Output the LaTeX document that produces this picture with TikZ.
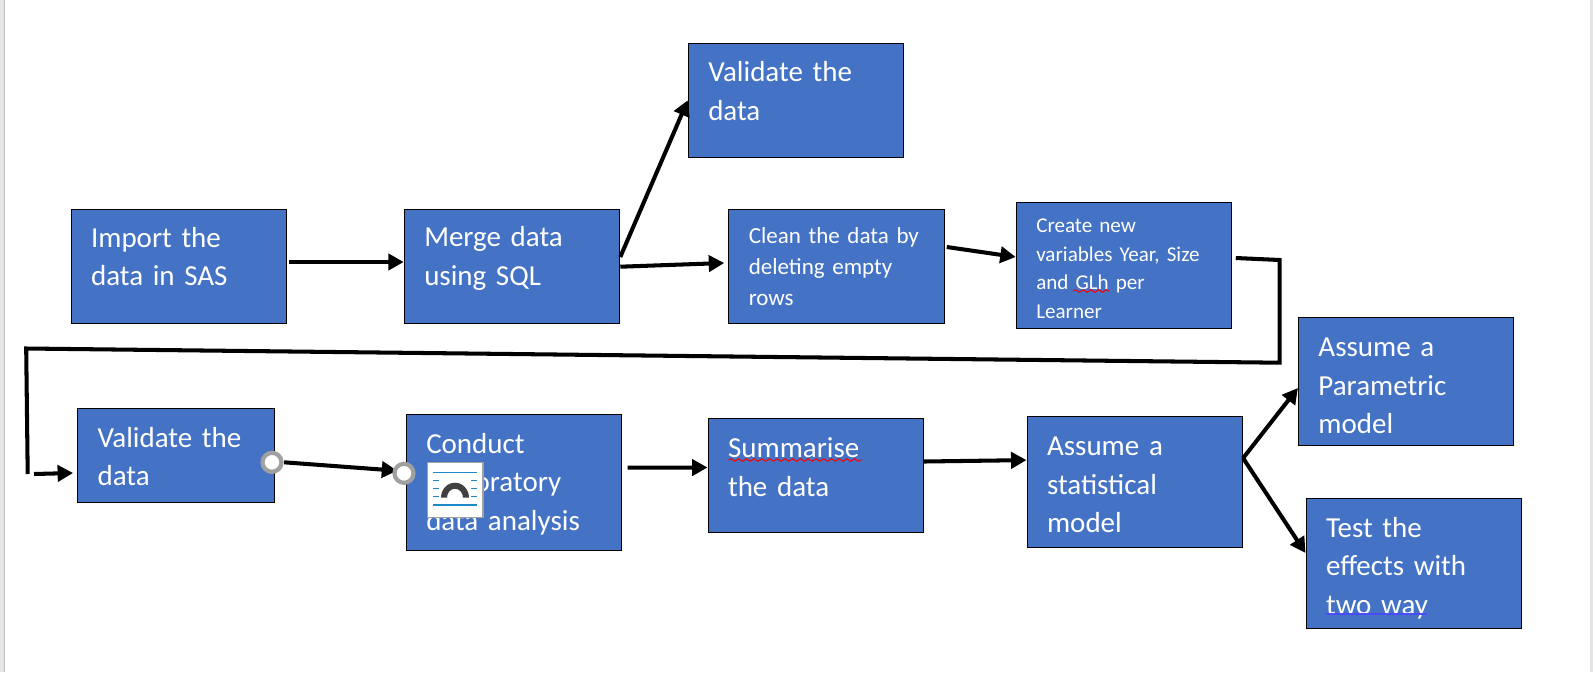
\documentclass[tikz,border=0pt]{standalone}
\usepackage{fontspec}
\setmainfont{Carlito}
\usetikzlibrary{arrows.meta,decorations.pathmorphing}
\definecolor{boxblue}{HTML}{4472C4}
\definecolor{pagegray}{HTML}{E6E6E6}
\definecolor{edgegray}{HTML}{BDBDBD}
\definecolor{ringgray}{HTML}{A0A0A0}
\definecolor{iconblue}{HTML}{1E88C8}
\definecolor{icondark}{HTML}{404040}
\newcommand{\bigboxfont}{\fontsize{8.25}{10.95}\selectfont\setlength{\spaceskip}{1.4pt}}

\begin{document}
\begin{tikzpicture}
		\tikzstyle{every node}=[align=left, inner sep=0pt]
		\tikzstyle{stepbox}=[rectangle, draw=black, line width=0.3pt, fill=boxblue, text=white, inner xsep=0.2cm, text width=1.755cm, minimum height=1.14cm]
		\tikzstyle{bigtext}=[font=\bigboxfont]
		\tikzstyle{midtext}=[font=\fontsize{6.55}{8.8}\selectfont]
		\tikzstyle{smalltext}=[font=\fontsize{6}{8.15}\selectfont]
		\tikzstyle{flow}=[line width=1.15pt, -{Triangle[length=4.4pt, width=4.6pt]}]
		\tikzstyle{plain}=[line width=1.15pt, line join=miter]
		\tikzstyle{ring}=[circle, draw=ringgray, line width=1.2pt, fill=white, minimum size=0.19cm]
		\tikzstyle{wavy}=[line width=0.3pt, decorate, decoration={snake, amplitude=0.35pt, segment length=2.2pt}]

		\useasboundingbox (0, 0) rectangle (15.93, -6.72);
		\fill [white] (0, 0) rectangle (15.93, -6.72);
		\fill [pagegray] (0, 0) rectangle (0.046, -6.72);
		\fill [pagegray] (15.9, 0) rectangle (15.93, -6.72);
		\draw [edgegray, line width=0.3pt] (0.046, 0) -- (0.046, -6.72);

		\node [stepbox, bigtext, text depth=16.15pt, minimum height=1.145cm] (valtop) at (7.96, -1.003) {Validate the\\data};
		\node [stepbox, bigtext, text depth=16.75pt] (import) at (1.788, -2.667) {Import the\\data in SAS};
		\node [stepbox, bigtext, text depth=17.15pt] (merge) at (5.12, -2.667) {Merge data\\using SQL};
		\node [stepbox, midtext] (clean) at (8.365, -2.667) {Clean the data by\\deleting empty\\rows};
		\node [stepbox, smalltext, text depth=22.75pt, minimum height=1.26cm] (create) at (11.24, -2.657) {Create new\\variables Year, Size\\and GLh per\\Learner};
		\node [stepbox, bigtext, text depth=10.35pt, text width=1.57cm, minimum height=0.94cm] (valbot) at (1.761, -4.553) {Validate the\\data};
		\node [stepbox, bigtext, text depth=22.3pt, minimum height=1.36cm] (conduct) at (5.14, -4.823) {Conduct\\exploratory\\data analysis};
		\node [stepbox, bigtext, text depth=15.55pt] (summ) at (8.158, -4.752) {Summarise\\the data};
		\node [stepbox, bigtext, text depth=20pt, minimum height=1.31cm] (stat) at (11.348, -4.818) {Assume a\\statistical\\model};
		\node [stepbox, bigtext, text depth=19.6pt, minimum height=1.28cm] (param) at (14.062, -3.817) {Assume a\\Parametric\\model};
		\node [stepbox, bigtext, text depth=20.9pt, minimum height=1.3cm] (test) at (14.138, -5.637) {Test the\\effects with\\two way};

		\coordinate (loopa) at (12.797, -2.6);
		\coordinate (loopb) at (12.797, -3.627);
		\coordinate (loopc) at (0.262, -3.485);
		\coordinate (loopd) at (0.277, -4.74);
		\coordinate (feed) at (0.34, -4.74);

		\draw [flow] ([shift={(0.02, 0.047)}]import.east) -- ([shift={(0, 0.047)}]merge.west);
		\draw [flow] ([shift={(0, 0.097)}]merge.east) -- (valtop.west);
		\draw [flow] (merge.east) -- ([shift={(-0.04, 0.037)}]clean.west);
		\draw [flow] ([shift={(0.02, 0.197)}]clean.east) -- ([shift={(0, 0.087)}]create.west);
		\draw [plain] ([shift={(0.035, 0.077)}]create.east) -- (loopa) -- (loopb) -- (loopc) -- (loopd);
		\draw [flow] (feed) -- ([shift={(-0.04, -0.177)}]valbot.west);
		\draw [flow] ([shift={(0.09, -0.07)}]valbot.east) -- ([shift={(-0.085, 0.116)}]conduct.west);
		\draw [flow] ([shift={(0.054, 0.146)}]conduct.east) -- ([shift={(0, 0.077)}]summ.west);
		\draw [flow] ([shift={(0, 0.137)}]summ.east) -- ([shift={(0, 0.217)}]stat.west);
		\draw [flow] ([shift={(0, 0.237)}]stat.east) -- ([shift={(0, -0.063)}]param.west);
		\draw [flow] ([shift={(0, 0.237)}]stat.east) -- ([shift={(0, 0.107)}]test.west);

		\node [ring] (handlea) at (2.72, -4.623) {};
		\node [ring] (handleb) at (4.04, -4.733) {};

		% wrap icon
		\draw [ringgray, line width=0.45pt, fill=white] (4.273, -4.623) rectangle (4.829, -5.173);
		\draw [iconblue, line width=0.3pt] (4.33, -4.727) -- (4.77, -4.727);
		\draw [iconblue, line width=0.3pt] (4.33, -5.05) -- (4.77, -5.05);
		\foreach \y in {-4.807, -4.887, -4.967} {
			\draw [iconblue, line width=0.3pt] (4.33, \y) -- (4.39, \y);
			\draw [iconblue, line width=0.3pt] (4.71, \y) -- (4.77, \y);
		}
		\fill [icondark] (4.41, -4.977) arc (180:0:0.14 and 0.15) -- (4.63, -4.977) arc (0:180:0.08 and 0.09) -- cycle;

		% proofing marks
		\draw [red, wavy] (10.73, -2.91) -- (11.094, -2.91);
		\draw [red, wavy] (7.285, -4.6) -- (8.617, -4.6);
		\draw [blue!70!white, line width=0.3pt] (13.26, -6.14) -- (14.27, -6.14);
\end{tikzpicture}
\end{document}
